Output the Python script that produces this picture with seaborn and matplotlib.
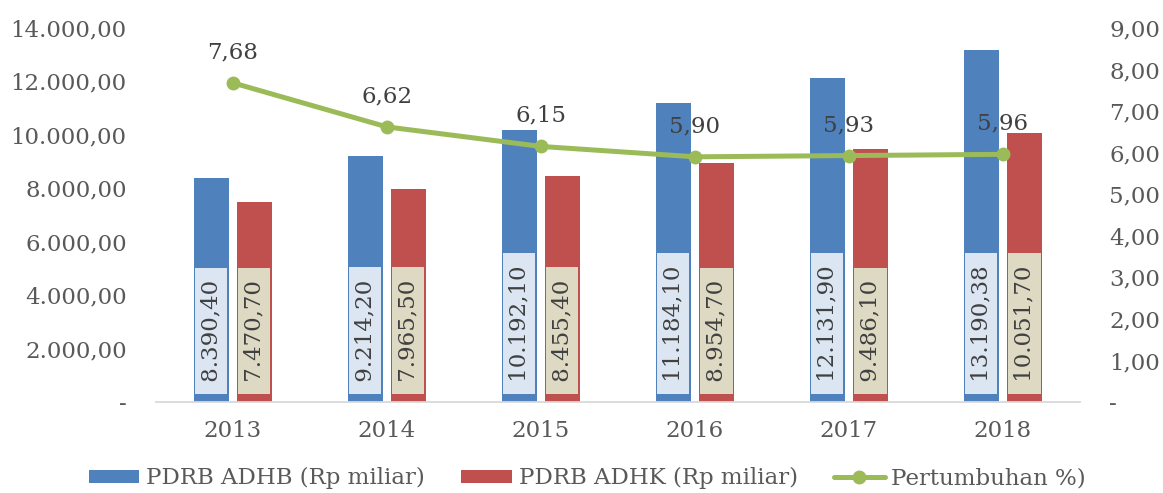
import numpy as np
import pandas as pd
import seaborn as sns
import matplotlib.pyplot as plt
from matplotlib.patches import Patch
from matplotlib.lines import Line2D

# data
tahun = ["2013", "2014", "2015", "2016", "2017", "2018"]
adhb = [8390.40, 9214.20, 10192.10, 11184.10, 12131.90, 13190.38]
adhk = [7470.70, 7965.50, 8455.40, 8954.70, 9486.10, 10051.70]
pertumbuhan = [7.68, 6.62, 6.15, 5.90, 5.93, 5.96]
seri = ["PDRB ADHB (Rp miliar)", "PDRB ADHK (Rp miliar)", "Pertumbuhan %)"]

biru, merah, hijau = "#4F81BD", "#C0504D", "#9BBB59"
box_biru, box_merah = "#DCE6F2", "#DDD9C3"
teks, abu = "#404040", "#595959"


def fmt(v):
    # Indonesian number format: 8.390,40
    s = f"{v:,.2f}"
    return s.replace(",", "#").replace(".", ",").replace("#", ".")


sns.set_style("white")
plt.rcParams["font.family"] = ["DejaVu Serif"]
plt.rcParams["font.size"] = 16.5

df = pd.DataFrame({
    "Tahun": tahun * 2,
    "Nilai": adhb + adhk,
    "Seri": [seri[0]] * len(tahun) + [seri[1]] * len(tahun),
})

fig = plt.figure(figsize=(11.63, 4.93), dpi=100)
ax = fig.add_axes([0.134, 0.1846, 0.7946, 0.7586])

sns.barplot(data=df, x="Tahun", y="Nilai", hue="Seri", palette=[biru, merah],
            width=0.56, gap=0.19, saturation=1, linewidth=0, edgecolor="none",
            ax=ax, legend=False)

# value labels inside the bars, rotated, with coloured boxes
for cont, fc in zip(ax.containers, [box_biru, box_merah]):
    for bar in cont:
        x = bar.get_x() + bar.get_width() / 2
        ax.annotate(" " + fmt(bar.get_height()) + " ", xy=(x, 0), xytext=(0, 9.4),
                    textcoords="offset points", rotation=90, ha="center", va="bottom",
                    color=teks, fontsize=16.5,
                    bbox=dict(boxstyle="square,pad=0.22", fc=fc, ec="none"))

ax.set_ylim(0, 14000)
ax.set_xlim(-0.5, len(tahun) - 0.5)
yt = np.arange(0, 14001, 2000)
ax.set_yticks(yt)
ax.set_yticklabels(["-"] + [fmt(v) for v in yt[1:]])
ax.set_xlabel("")
ax.set_ylabel("")
ax.tick_params(axis="y", length=0, pad=21, labelcolor=abu)
ax.tick_params(axis="x", length=0, pad=13, labelcolor=abu)
for s in ["left", "right", "top"]:
    ax.spines[s].set_visible(False)
ax.spines["bottom"].set_color("#D9D9D9")
ax.spines["bottom"].set_linewidth(1.3)

# growth line on secondary axis
ax2 = ax.twinx()
pos = np.arange(len(tahun))
sns.lineplot(x=pos, y=pertumbuhan, ax=ax2, color=hijau, linewidth=3.6,
             marker="o", markersize=10, markeredgewidth=0)
for xi, v in zip(pos, pertumbuhan):
    ax2.annotate(f"{v:.2f}".replace(".", ","), xy=(xi, v), xytext=(0, 22),
                 textcoords="offset points", ha="center", va="center",
                 color=teks, fontsize=16.5)
ax2.set_ylim(0, 9)
ax2.set_xlim(-0.5, len(tahun) - 0.5)
yt2 = np.arange(0, 10)
ax2.set_yticks(yt2)
ax2.set_yticklabels(["-"] + [f"{v:.2f}".replace(".", ",") for v in yt2[1:]])
ax2.set_ylabel("")
ax2.tick_params(axis="y", length=0, pad=21, labelcolor=abu)
for s in ax2.spines.values():
    s.set_visible(False)

handles = [
    Patch(facecolor=biru, edgecolor="none"),
    Patch(facecolor=merah, edgecolor="none"),
    Line2D([0], [0], color=hijau, linewidth=3.6, marker="o", markersize=10, markeredgewidth=0),
]
leg = fig.legend(handles, seri, loc="center", bbox_to_anchor=(0.505, 0.03), ncol=3,
                 frameon=False, handlelength=2.2, handleheight=0.5, handletextpad=0.3,
                 columnspacing=1.6, fontsize=16.5)
for t in leg.get_texts():
    t.set_color(abu)

fig.savefig("out.png", dpi=100)
